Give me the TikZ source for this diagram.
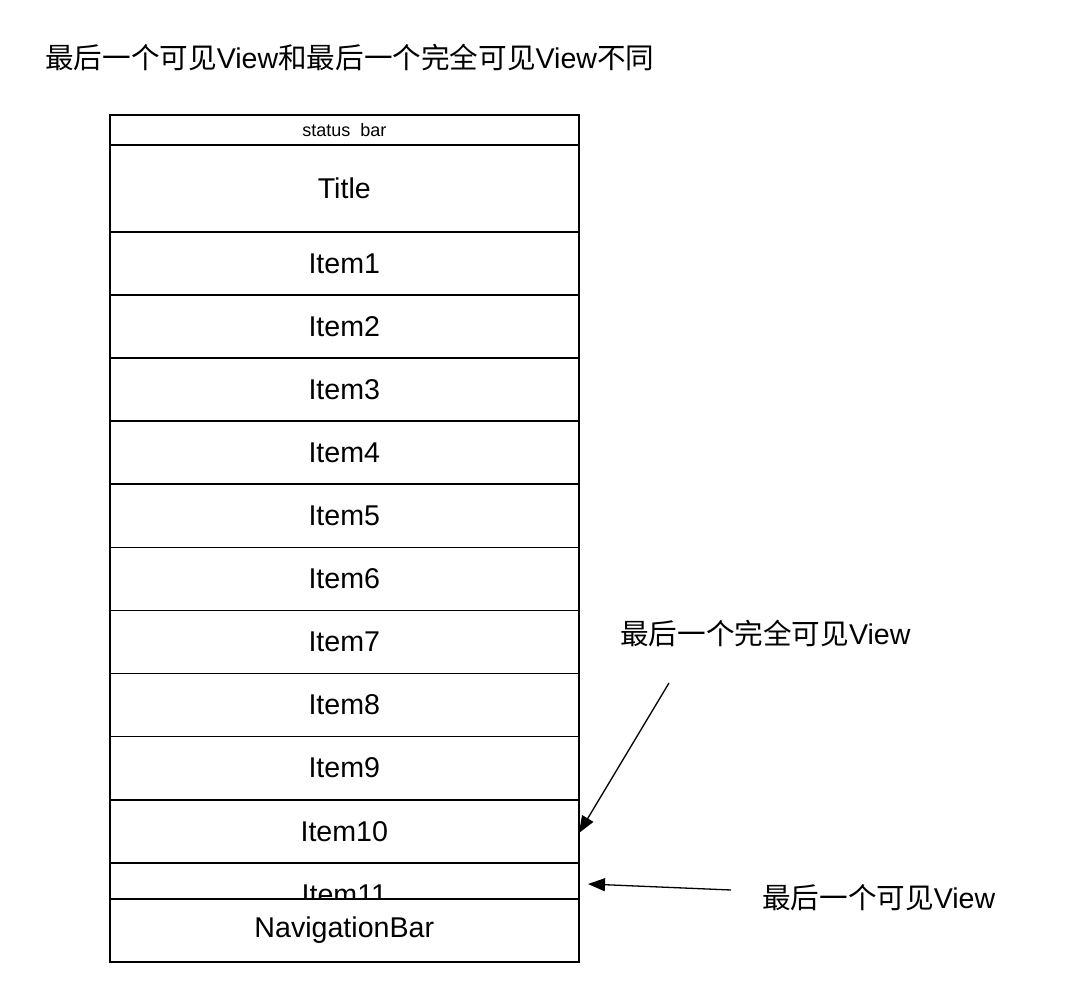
\documentclass[tikz,border=0pt]{standalone}
\usepackage{fontspec}
\setmainfont{Liberation Sans}
\newfontfamily\cjk{Noto Sans CJK SC}
\usetikzlibrary{arrows.meta}
\begin{document}
\begin{tikzpicture}[x=1pt,y=-1pt,
  cell/.style={draw=black,line width=1.6pt,fill=white,minimum width=469pt,inner sep=0pt,anchor=north west,font=\fontsize{28.6}{31}\selectfont},
  lbl/.style={inner sep=0pt,anchor=west,font=\fontsize{28.6}{31}\selectfont},
  arr/.style={line width=1.3pt,-{Triangle[length=17pt,width=13pt]}}]
\useasboundingbox (0,0) rectangle (1080,995);
\node[lbl] (head) at (45,58) {{\cjk 最后一个可见}View{\cjk 和最后一个完全可见}View{\cjk 不同}};
\node[cell,minimum height=30pt,font=\fontsize{18}{20}\selectfont] (status) at (109,114) {status\ \ bar};
\node[cell,minimum height=87pt] (title) at (109,144) {Title};
\foreach \i in {1,...,10}{
  \node[cell,minimum height=63.1pt] (item\i) at (109,{231+63.1*(\i-1)}) {Item\i};
}
\node[cell,minimum height=63pt] (item11) at (109,862) {Item11};
\node[cell,minimum height=63pt] (nav) at (109,898) {NavigationBar};
\node[lbl] (lab1) at (620,634) {{\cjk 最后一个完全可见}View};
\node[lbl] (lab2) at (762,898) {{\cjk 最后一个可见}View};
\coordinate (a1s) at (669,683);
\coordinate (a1e) at (579,833);
\coordinate (a2s) at (731,890);
\coordinate (a2e) at (588,884);
\draw[arr] (a1s) -- (a1e);
\draw[arr] (a2s) -- (a2e);
\end{tikzpicture}
\end{document}
